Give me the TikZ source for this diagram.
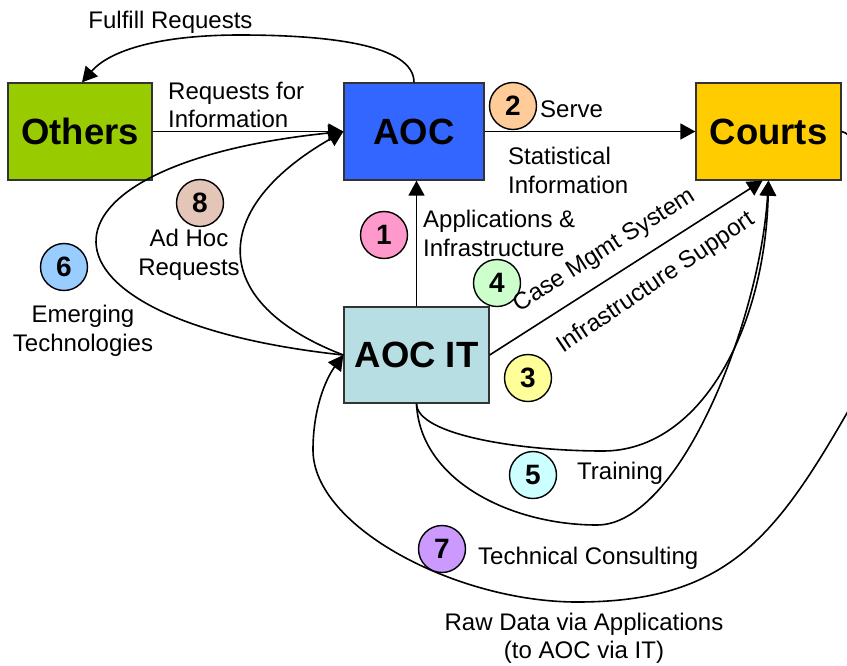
\documentclass[tikz,border=0pt]{standalone}
\usepackage{fontspec}
\setmainfont{Liberation Sans}
\usetikzlibrary{arrows.meta}
\definecolor{cOthers}{RGB}{153,204,0}
\definecolor{cAOC}{RGB}{51,102,255}
\definecolor{cCourts}{RGB}{255,204,0}
\definecolor{cAOCIT}{RGB}{183,222,226}
\definecolor{cOne}{RGB}{255,153,204}
\definecolor{cTwo}{RGB}{255,204,153}
\definecolor{cThree}{RGB}{255,255,153}
\definecolor{cFour}{RGB}{204,255,204}
\definecolor{cFive}{RGB}{204,255,255}
\definecolor{cSix}{RGB}{153,204,255}
\definecolor{cSeven}{RGB}{204,153,255}
\definecolor{cEight}{RGB}{228,198,184}
\begin{document}
\begin{tikzpicture}[x=1pt,y=-1pt,
  box/.style={draw=black!80, line width=1.3pt, minimum width=#1, minimum height=97pt, inner sep=0pt, font=\fontsize{36.5}{40}\selectfont\bfseries},
  num/.style={circle, draw=black, line width=1.4pt, fill=#1, minimum size=47pt, inner sep=0pt, font=\fontsize{28}{30}\selectfont\bfseries},
  lbl/.style={inner sep=0pt, font=\fontsize{24}{28.5}\selectfont},
  conn/.style={line width=1.6pt, -{Triangle[length=15pt,width=16pt]}},
]
\useasboundingbox (0,0) rectangle (847,665);
\clip (0,0) rectangle (847,665);

% boxes
\node[box=144pt, fill=cOthers] (others) at (80,131.5) {Others};
\node[box=140pt, fill=cAOC] (aoc) at (414,131.5) {AOC};
\node[box=145pt, fill=cCourts] (courts) at (768.5,131.5) {Courts};
\node[box=145pt, fill=cAOCIT, minimum height=96pt] (aocit) at (416.5,355) {AOC IT};

% connectors
\draw[conn] (aoc.north) .. controls (414,45) and (330,35) .. (240,35)
            .. controls (160,35) and (110,50) .. ([xshift=2pt]others.north);
\draw[conn] (others.east) -- (aoc.west);
\draw[conn] (aoc.east) -- (courts.west);
\draw[conn] (aocit.north) -- (aocit.north |- aoc.south);
\draw[conn] (aocit.east) -- ([xshift=-6pt]courts.south);
\draw[conn] (aocit.south) .. controls (417,435) and (520,451) .. (603,451)
            .. controls (700,451) and (765,330) .. (courts.south);
\draw[conn] (aocit.south) .. controls (420,480) and (510,525) .. (597,525)
            .. controls (680,525) and (760,320) .. (courts.south);
\draw[conn] (aocit.west) .. controls (16,320) and (16,165) .. (aoc.west);
\draw[conn] (aocit.west) .. controls (208,303) and (208,209) .. (aoc.west);
\draw[conn] (courts.east) .. controls (880,140) and (895,330) .. (847,413)
            .. controls (774,540) and (724,602) .. (577,602)
            .. controls (457,602) and (313,527) .. (313,450)
            .. controls (313,410) and (325,380) .. (aocit.west);

% labels and numbered circles
\node[lbl] (tFulfill) at (170.5,22.5) {Fulfill Requests};
\node[lbl, anchor=west, align=left] (tReq) at (168,105) {Requests for\\Information};
\node[num=cTwo] (n2) at (513,106) {2};
\node[lbl, anchor=west] (tServe) at (540,109) {Serve};
\node[lbl, anchor=west, align=left] (tStat) at (508,170.5) {Statistical\\Information};
\node[num=cOne] (n1) at (384,235) {1};
\node[lbl, anchor=west, align=left] (tApp) at (423,233.5) {Applications \&\\Infrastructure};
\node[num=cFour] (n4) at (497,283) {4};
\node[lbl, rotate=32.4] (tCase) at (605,251) {Case Mgmt System};
\node[lbl, rotate=34] (tInfra) at (656,283) {Infrastructure Support};
\node[num=cThree] (n3) at (528,378) {3};
\node[num=cEight] (n8) at (200,203) {8};
\node[lbl, align=center] (tAdHoc) at (189,255) {Ad Hoc\\Requests};
\node[num=cSix] (n6) at (64,267) {6};
\node[lbl, align=center] (tEmerg) at (83,331) {Emerging\\Technologies};
\node[num=cFive] (n5) at (533,475) {5};
\node[lbl, anchor=west] (tTrain) at (577,473.5) {Training};
\node[num=cSeven] (n7) at (442,549) {7};
\node[lbl, anchor=west] (tTech) at (478,558) {Technical Consulting};
\node[lbl, align=center] (tRaw) at (584,638.5) {Raw Data via Applications\\(to AOC via IT)};
\end{tikzpicture}
\end{document}
